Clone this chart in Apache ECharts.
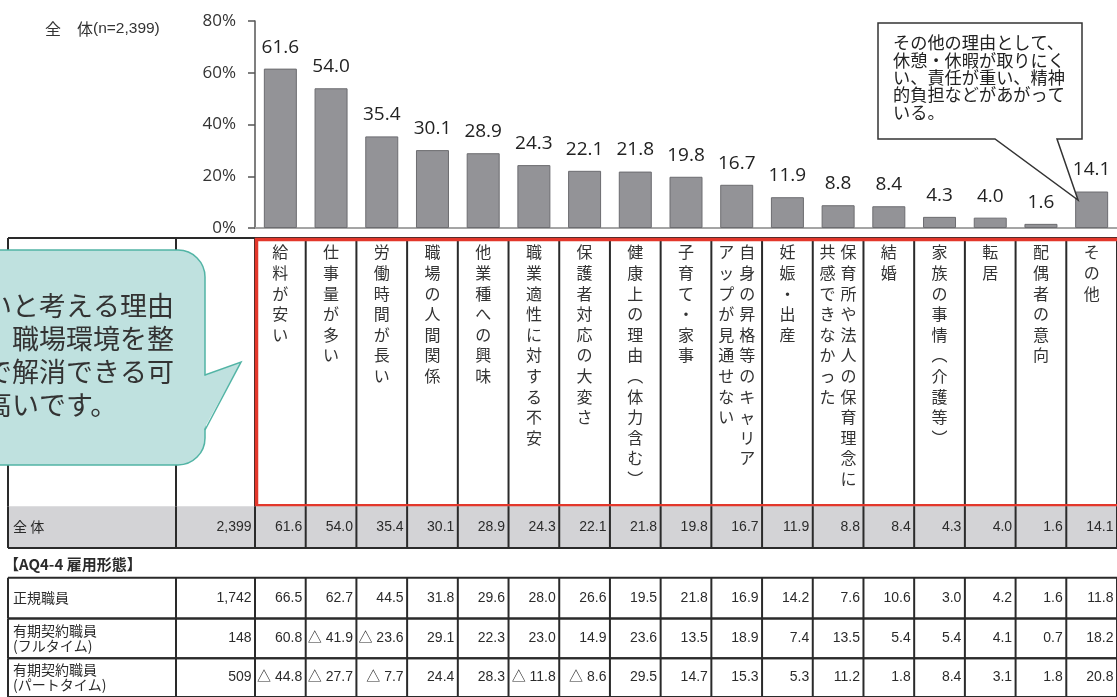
<!DOCTYPE html>
<html>
<head>
<meta charset="utf-8">
<script src="https://cdn.jsdelivr.net/npm/echarts@6/dist/echarts.min.js"></script>
<style>html,body{margin:0;padding:0;background:#fff;}#c{width:1117px;height:697px;}</style>
</head>
<body>
<div id="c"></div>
<script>
// ---------------- data ----------------
const categories = ['給料が安い','仕事量が多い','労働時間が長い','職場の人間関係','他業種への興味','職業適性に対する不安','保護者対応の大変さ','健康上の理由（体力含む）','子育て・家事','自身の昇格等のキャリアアップが見通せない','妊娠・出産','保育所や法人の保育理念に共感できなかった','結婚','家族の事情（介護等）','転居','配偶者の意向','その他'];
const totalValues = [61.6,54.0,35.4,30.1,28.9,24.3,22.1,21.8,19.8,16.7,11.9,8.8,8.4,4.3,4.0,1.6,14.1];
const yTicks = [0,20,40,60,80];
const titleText = '全　体';
const titleN = '(n=2,399)';
const totalLabel = '全 体';
const totalN = '2,399';
const groupTitle = '【AQ4-4 雇用形態】';
const rowLabels = ['正規職員','有期契約職員\n(フルタイム)','有期契約職員\n(パートタイム)'];
const rowN = ['1,742','148','509'];
const regularValues = [66.5,62.7,44.5,31.8,29.6,28.0,26.6,19.5,21.8,16.9,14.2,7.6,10.6,3.0,4.2,1.6,11.8];
const regularMarks  = [0,0,0,0,0,0,0,0,0,0,0,0,0,0,0,0,0];
const fullTimeValues = [60.8,41.9,23.6,29.1,22.3,23.0,14.9,23.6,13.5,18.9,7.4,13.5,5.4,5.4,4.1,0.7,18.2];
const fullTimeMarks  = [0,1,1,0,0,0,0,0,0,0,0,0,0,0,0,0,0];
const partTimeValues = [44.8,27.7,7.7,24.4,28.3,11.8,8.6,29.5,14.7,15.3,5.3,11.2,1.8,8.4,3.1,1.8,20.8];
const partTimeMarks  = [1,1,1,0,0,1,1,0,0,0,0,0,0,0,0,0,0];
const noteText = 'その他の理由として、\n休憩・休暇が取りにく\nい、責任が重い、精神\n的負担などがあがって\nいる。';
const bubbleText = 'いと考える理由\n、職場環境を整\nで解消できる可\n高いです。';

// ---------------- layout ----------------
const FONT_JP = '"Noto Sans CJK JP", sans-serif';
const FONT_NUM = '"Liberation Sans", "Noto Sans CJK JP", sans-serif';
const FONT_CHART = '"Open Sans", "Noto Sans", sans-serif';
const LINE = '#2a2a2a';
const LABEL_LEFT = 8, N_LEFT = 176;
const headerSplit = {9: 11, 11: 12};
// table rows: [x, top offset, bottom offset, kind]
const tableRows = [[0,0,270,0],[0,270,312,1],[0,312,342,2],[0,342,383,3],[0,383,423,4],[0,423,462,5]];
const bodyRows = [
  {label: rowLabels[0], n: rowN[0], values: regularValues, marks: regularMarks},
  {label: rowLabels[1], n: rowN[1], values: fullTimeValues, marks: fullTimeMarks},
  {label: rowLabels[2], n: rowN[2], values: partTimeValues, marks: partTimeMarks}
];

function toVertical(s) {
  const map = {'（':'︵','）':'︶'};
  return Array.from(s).map(ch => map[ch] || ch).join('\n');
}

function renderTable(params, api) {
  const kind = api.value(3);
  const top = api.coord([0, api.value(1)])[1];
  const bot = api.coord([0, api.value(2)])[1];
  const bw = api.size([1, 0])[0];
  const n = categories.length;
  const colL = c => api.coord([c, 0])[0] - bw / 2;
  const right = colL(n - 1) + bw;
  const ch = [];
  const line = (x1, y1, x2, y2, stroke, lw) => ch.push({type:'line', shape:{x1, y1, x2, y2}, style:{stroke: stroke || LINE, lineWidth: lw || 2}});
  const text = (t, x, y, opt) => ch.push({type:'text', style: Object.assign({text: t, x, y, fill:'#2b2b2b', fontSize:14, fontFamily: FONT_NUM, align:'right', verticalAlign:'middle'}, opt || {})});
  const verticals = () => {
    line(LABEL_LEFT, top, LABEL_LEFT, bot);
    line(N_LEFT, top, N_LEFT, bot);
    for (let c = 0; c < n; c++) line(colL(c), top, colL(c), bot);
    line(right, top, right, bot);
  };
  const mid = (top + bot) / 2;
  if (kind === 0) {
    line(LABEL_LEFT, top, right, top);
    verticals();
    for (let c = 0; c < n; c++) {
      const cx = colL(c) + bw / 2;
      const lab = categories[c];
      const parts = headerSplit[c] ? [lab.slice(0, headerSplit[c]), lab.slice(headerSplit[c])] : [lab];
      parts.forEach((p, i) => {
        const x = parts.length === 1 ? cx : (i === 0 ? cx + 10.5 : cx - 10.5);
        text(toVertical(p), x, top + 4, {fontFamily: FONT_JP, fontSize: 16, lineHeight: 20.6, align:'center', verticalAlign:'top', fill:'#333'});
      });
    }
    ch.push({type:'rect', shape:{x: colL(0) + 1.5, y: top + 1.5, width: right - colL(0) + 20, height: bot - top - 2}, style:{fill:'none', stroke:'#e3372b', lineWidth:3.5}});
  } else if (kind === 1) {
    ch.push({type:'rect', shape:{x: LABEL_LEFT, y: top, width: right - LABEL_LEFT, height: bot - top}, style:{fill:'#d3d3d6'}});
    line(LABEL_LEFT, bot, right, bot);
    verticals();
    text(totalLabel, LABEL_LEFT + 5, mid, {fontFamily: FONT_JP, align:'left'});
    text(totalN, colL(0) - 3.5, mid);
    for (let c = 0; c < n; c++) text(totalValues[c].toFixed(1), colL(c) + bw - 3.5, mid);
  } else if (kind === 2) {
    text(groupTitle, LABEL_LEFT - 4, mid + 1, {fontFamily: FONT_JP, fontSize: 15, fontWeight: 'bold', align:'left'});
  } else {
    const r = bodyRows[kind - 3];
    line(LABEL_LEFT, top, right, top);
    line(LABEL_LEFT, bot, right, bot);
    verticals();
    text(r.label, LABEL_LEFT + 5, mid, {fontFamily: FONT_JP, align:'left', lineHeight: 15});
    text(r.n, colL(0) - 3.5, mid);
    for (let c = 0; c < n; c++) {
      const s = (r.marks[c] ? '△ ' : '') + r.values[c].toFixed(1);
      text(s, colL(c) + bw - 3.5, mid);
    }
  }
  return {type:'group', children: ch};
}

const TEAL_FILL = '#bfe1df', TEAL_LINE = '#52b4a5';
const chart = echarts.init(document.getElementById('c'), null, {renderer:'canvas', width:1117, height:697});
chart.setOption({
  animation: false,
  backgroundColor: '#fff',
  grid: [
    {left: 255, top: 21, width: 866, height: 207},
    {left: 255, top: 238, width: 866, height: 462}
  ],
  xAxis: [
    {gridIndex: 0, type: 'category', data: categories, axisTick: {show:false}, axisLabel: {show:false},
     axisLine: {show: true, lineStyle: {color:'#a5a5a5', width: 2}}},
    {gridIndex: 1, type: 'category', data: categories, show: false}
  ],
  yAxis: [
    {gridIndex: 0, type: 'value', min: yTicks[0], max: yTicks[yTicks.length-1], interval: yTicks[1]-yTicks[0],
     splitLine: {show:false},
     axisLine: {show:true, lineStyle:{color:'#555', width:1.5}},
     axisTick: {show:true, length:7, lineStyle:{color:'#555', width:1.5}},
     axisLabel: {formatter: '{value}%', fontSize: 17, color:'#333', margin: 19, fontFamily: FONT_CHART}},
    {gridIndex: 1, type: 'value', min: 0, max: 462, inverse: true, show: false}
  ],
  series: [
    {type: 'bar', xAxisIndex: 0, yAxisIndex: 0, data: totalValues, barWidth: 33,
     itemStyle: {color:'#939397', borderColor:'#6c6c70', borderWidth: 1},
     label: {show: true, position: 'top', distance: 12, fontSize: 19, color:'#222', fontFamily: FONT_CHART,
             formatter: p => p.value.toFixed(1)}},
    {type: 'custom', xAxisIndex: 1, yAxisIndex: 1, data: tableRows, clip: false, silent: true, z: 3,
     encode: {x: 0, y: [1, 2]}, renderItem: renderTable}
  ],
  graphic: [
    {type:'text', x: 45, y: 21, z: 50, style: {text: '{a|' + titleText + '}{b|' + titleN + '}',
      rich: {a: {fontSize: 16, fontFamily: FONT_JP, fill:'#333'}, b: {fontSize: 15.5, fontFamily: FONT_NUM, fill:'#333'}}}},
    {type:'rect', z: 60, shape: {x: -40, y: 250, width: 245, height: 215, r: 27},
     style: {fill: TEAL_FILL, stroke: TEAL_LINE, lineWidth: 1.5}},
    {type:'polygon', z: 61, shape: {points: [[204, 376], [241, 362], [204, 429]]}, style: {fill: TEAL_FILL}},
    {type:'polyline', z: 62, shape: {points: [[205, 375], [241, 362], [205, 430]]}, style: {stroke: TEAL_LINE, lineWidth: 1.5, fill: null}},
    {type:'text', x: -15, y: 289, z: 63, style: {text: bubbleText, fontSize: 27, lineHeight: 33, fontFamily: FONT_JP, fill:'#333', align:'left', verticalAlign:'top'}},
    {type:'polygon', z: 60, shape: {points: [[878, 23], [1082, 23], [1082, 139], [1057, 139], [1078, 200], [995, 139], [878, 139]]},
     style: {fill:'#fff', stroke:'#333', lineWidth: 1.5}},
    {type:'text', x: 893, y: 34, z: 61, style: {text: noteText, fontSize: 17.2, lineHeight: 17.4, fontFamily: FONT_JP, fill:'#222', align:'left', verticalAlign:'top'}}
  ]
});
</script>
</body>
</html>
